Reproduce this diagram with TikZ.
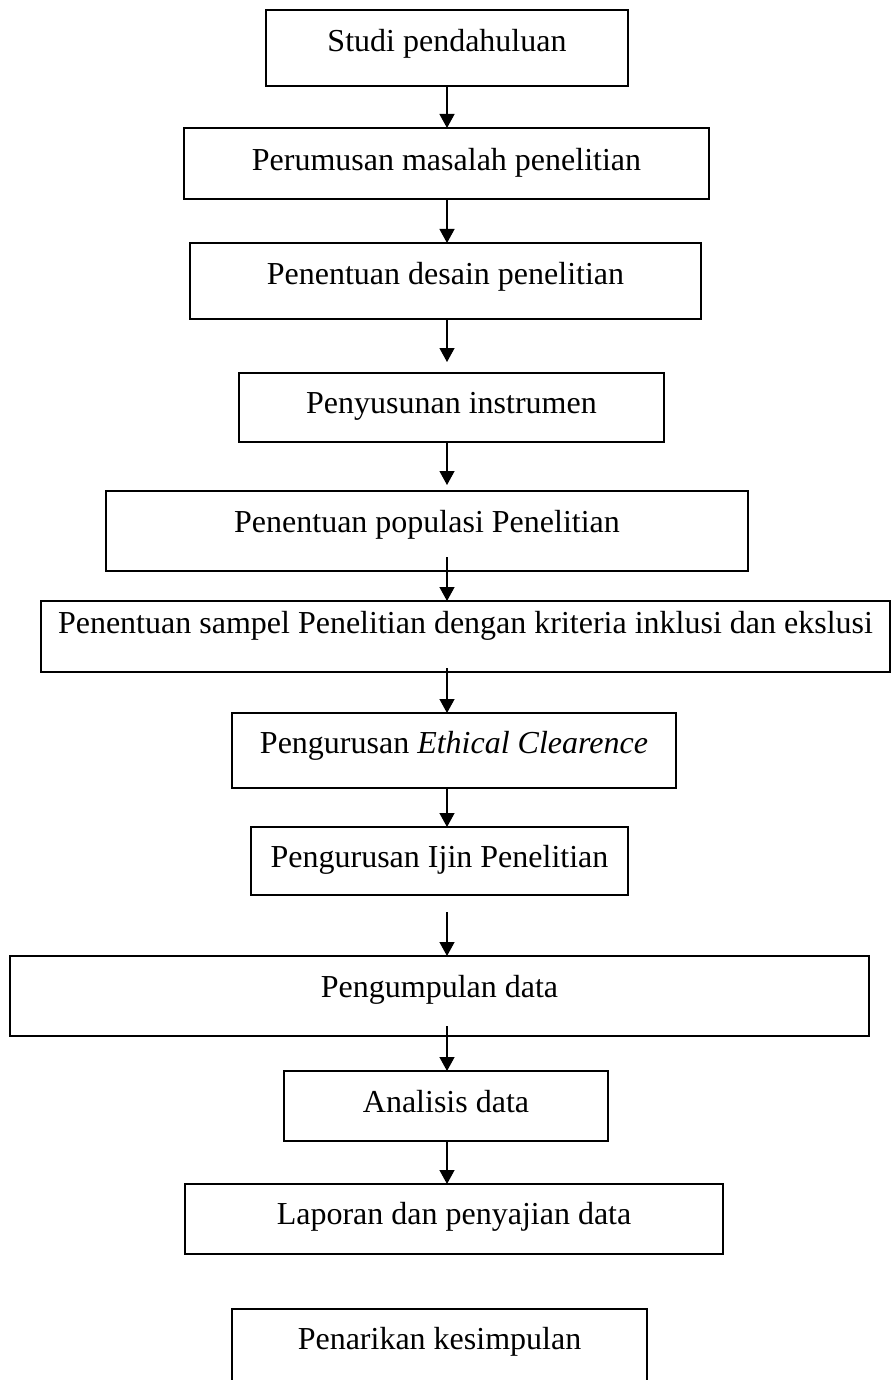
\documentclass[tikz,border=0pt]{standalone}
\usepackage{fontspec}
\setmainfont{Liberation Serif}
\usepackage{tikz}
\usetikzlibrary{arrows.meta}

\begin{document}
\begin{tikzpicture}[
x=1pt, y=-1pt,
flowbox/.style={draw, line width=1.3pt, inner sep=0pt, outer sep=0pt, anchor=north west,
  font=\fontsize{32}{38}\selectfont},
flowarrow/.style={line width=1.3pt, -{Triangle[length=14pt, width=15pt]}}
]
\useasboundingbox (0,0) rectangle (891,1380);
% Nodes
\node[flowbox, minimum width=362pt, text height=42pt, text depth=34pt] (studi) at (266,10) {Studi pendahuluan};
\node[flowbox, minimum width=525pt, text height=43pt, text depth=28pt] (rumusan) at (184,128) {Perumusan masalah penelitian};
\node[flowbox, minimum width=511pt, text height=41pt, text depth=35pt] (desain) at (190,243) {Penentuan desain penelitian};
\node[flowbox, minimum width=425pt, text height=40pt, text depth=29pt] (instrumen) at (239,373) {Penyusunan instrumen};
\node[flowbox, minimum width=642pt, text height=41pt, text depth=39pt] (populasi) at (106,491) {Penentuan populasi Penelitian};
\node[flowbox, minimum width=849pt, text height=32pt, text depth=39pt] (sampel) at (41,601) {Penentuan sampel Penelitian dengan kriteria inklusi dan ekslusi};
\node[flowbox, minimum width=444pt, text height=40pt, text depth=35pt] (ethical) at (232,713) {Pengurusan \textit{Ethical Clearence}};
\node[flowbox, minimum width=377pt, text height=40pt, text depth=28pt] (ijin) at (251,827) {Pengurusan Ijin Penelitian};
\node[flowbox, minimum width=859pt, text height=41pt, text depth=39pt] (kumpul) at (10,956) {Pengumpulan data};
\node[flowbox, minimum width=324pt, text height=41pt, text depth=29pt] (analisis) at (284,1071) {Analisis data};
\node[flowbox, minimum width=538pt, text height=40pt, text depth=30pt] (laporan) at (185,1184) {Laporan dan penyajian data};
\node[flowbox, minimum width=415pt, text height=40pt, text depth=40pt] (simpulan) at (232,1309) {Penarikan kesimpulan};

% Arrows
\coordinate (axis) at (447,0);
\draw[flowarrow] (studi.south -| axis) -- (rumusan.north -| axis);
\draw[flowarrow] (rumusan.south -| axis) -- (desain.north -| axis);
\draw[flowarrow, shorten >=11pt] (desain.south -| axis) -- (instrumen.north -| axis);
\draw[flowarrow, shorten >=6pt] (instrumen.south -| axis) -- (populasi.north -| axis);
\draw[flowarrow, shorten <=-14pt] (populasi.south -| axis) -- (sampel.north -| axis);
\draw[flowarrow, shorten <=-4pt] (sampel.south -| axis) -- (ethical.north -| axis);
\draw[flowarrow] (ethical.south -| axis) -- (ijin.north -| axis);
\draw[flowarrow, shorten <=17pt] (ijin.south -| axis) -- (kumpul.north -| axis);
\draw[flowarrow, shorten <=-10pt] (kumpul.south -| axis) -- (analisis.north -| axis);
\draw[flowarrow] (analisis.south -| axis) -- (laporan.north -| axis);
\end{tikzpicture}
\end{document}
